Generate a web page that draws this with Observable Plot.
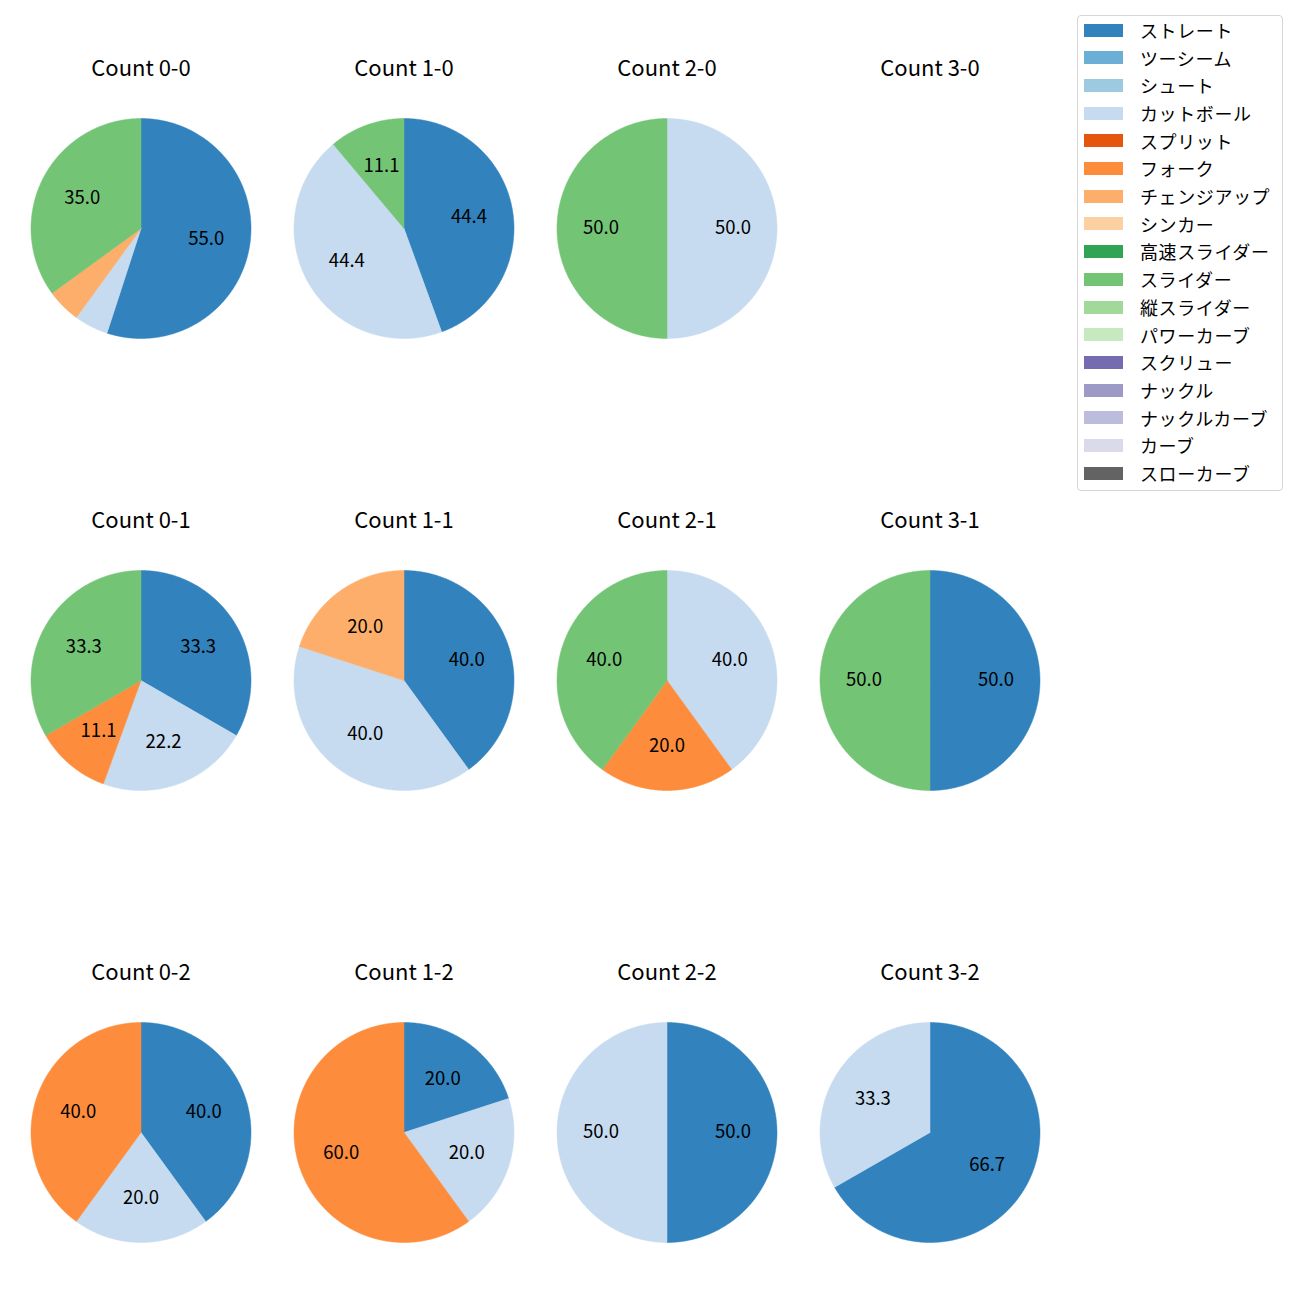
<!DOCTYPE html>
<html>
<head>
<meta charset="utf-8">
<script src="https://cdn.jsdelivr.net/npm/d3@7"></script>
<script src="https://cdn.jsdelivr.net/npm/@observablehq/plot@0.6"></script>
<style>
  body { margin: 0; background: #fff; font-family: "Noto Sans CJK JP", "Noto Sans", sans-serif; }
  #wrap { position: relative; width: 1300px; height: 1300px; }
  #legend { position: absolute; left: 1077px; top: 15px; width: 204px; height: 474px;
    border: 1px solid #d6d6d6; border-radius: 4px; background: rgba(255,255,255,0.8); box-sizing: content-box; }
  .row { position: absolute; left: 0; height: 27.7px; display: flex; align-items: center; }
  .sw { position: absolute; left: 6px; width: 39px; height: 13px; }
  .lb { position: absolute; left: 62px; font-size: 18px; letter-spacing: 0.6px; line-height: 1; white-space: nowrap; color: #000; }
</style>
</head>
<body>
<div id="wrap"><div id="chart"></div><div id="legend"></div></div>
<script>
// Pitch types (legend order) and their colours
const pitchTypes = ["ストレート","ツーシーム","シュート","カットボール","スプリット","フォーク","チェンジアップ","シンカー","高速スライダー","スライダー","縦スライダー","パワーカーブ","スクリュー","ナックル","ナックルカーブ","カーブ","スローカーブ"];
const pitchColors = ["#3182bd","#6baed6","#9ecae1","#c6dbef","#e6550d","#fd8d3c","#fdae6b","#fdd0a2","#31a354","#74c476","#a1d99b","#c7e9c0","#756bb1","#9e9ac8","#bcbddc","#dadaeb","#636363"];

// Counts: balls-strikes
const countBalls   = [0, 1, 2, 3, 0, 1, 2, 3, 0, 1, 2, 3];
const countStrikes = [0, 0, 0, 0, 1, 1, 1, 1, 2, 2, 2, 2];

// Percentages per pitch type for each count (same order as counts)
const straightPct = [55.0, 44.4, 0,    0, 33.3, 40.0, 0,    50.0, 40.0, 20.0, 50.0, 66.7];
const cutballPct  = [5.0,  44.4, 50.0, 0, 22.2, 40.0, 40.0, 0,    20.0, 20.0, 50.0, 33.3];
const forkPct     = [0,    0,    0,    0, 11.1, 0,    20.0, 0,    40.0, 60.0, 0,    0];
const changeupPct = [5.0,  0,    0,    0, 0,    20.0, 0,    0,    0,    0,    0,    0];
const sliderPct   = [35.0, 11.1, 50.0, 0, 33.3, 0,    40.0, 50.0, 0,    0,    0,    0];

const seriesByPitch = {
  "ストレート": straightPct,
  "カットボール": cutballPct,
  "フォーク": forkPct,
  "チェンジアップ": changeupPct,
  "スライダー": sliderPct
};

// Build wedge polygons and labels
const wedgePts = [];
const labels = [];
const titles = [];
countBalls.forEach((b, i) => {
  const s = countStrikes[i];
  titles.push({ball: b, strike: s, text: `Count ${b}-${s}`});
  const slices = pitchTypes
    .filter(p => seriesByPitch[p] && seriesByPitch[p][i] > 0)
    .map(p => ({pitch: p, value: seriesByPitch[p][i]}));
  if (!slices.length) return;
  const arcs = d3.pie().sort(null).value(d => d.value).startAngle(0).endAngle(2 * Math.PI)(slices);
  arcs.forEach((a, j) => {
    const key = `${i}-${j}`;
    const n = Math.max(2, Math.ceil((a.endAngle - a.startAngle) / (Math.PI / 360)));
    wedgePts.push({key, pitch: a.data.pitch, ball: b, strike: s, x: 0, y: 0});
    for (let k = 0; k <= n; k++) {
      const t = a.startAngle + (a.endAngle - a.startAngle) * k / n;
      wedgePts.push({key, pitch: a.data.pitch, ball: b, strike: s, x: Math.sin(t), y: Math.cos(t)});
    }
    wedgePts.push({key, pitch: a.data.pitch, ball: b, strike: s, x: 0, y: 0});
    if (a.data.value >= 10) {
      const m = (a.startAngle + a.endAngle) / 2;
      labels.push({ball: b, strike: s, x: 0.6 * Math.sin(m), y: 0.6 * Math.cos(m), text: a.data.value.toFixed(1)});
    }
  });
});

const R = 110; // pie radius in px
const cellW = 263, cellH = 320, centerFromTop = 190;

const chart = Plot.plot({
  width: 1300,
  height: 1300,
  marginLeft: 8.5,
  marginRight: 239.5,
  marginTop: 37.5,
  marginBottom: 37.5,
  style: {fontFamily: "'Noto Sans CJK JP', 'Noto Sans', sans-serif", background: "transparent"},
  fx: {domain: [0, 1, 2, 3], padding: 0, axis: null},
  fy: {domain: [0, 1, 2], paddingInner: 1 - cellH / 452.5, paddingOuter: 0, axis: null},
  x: {domain: [-cellW / 2 / R, cellW / 2 / R], axis: null},
  y: {domain: [-(cellH - centerFromTop) / R, centerFromTop / R], axis: null},
  color: {domain: pitchTypes, range: pitchColors},
  marks: [
    Plot.line(wedgePts, {x: "x", y: "y", z: "key", fill: "pitch", stroke: "pitch", strokeWidth: 0.5, fx: "ball", fy: "strike", curve: "linear"}),
    Plot.text(labels, {x: "x", y: "y", text: "text", fx: "ball", fy: "strike", fontSize: 18.5, fill: "#000", lineAnchor: "middle", style: "letter-spacing:0.4px"}),
    Plot.text(titles, {x: () => 0, y: () => 160 / R, text: "text", fx: "ball", fy: "strike", fontSize: 22, fill: "#000", lineAnchor: "middle"})
  ]
});
document.getElementById("chart").appendChild(chart);

// Legend
const legend = document.getElementById("legend");
pitchTypes.forEach((p, i) => {
  const row = document.createElement("div");
  row.className = "row";
  row.style.top = (0.0 + i * 27.7) + "px";
  row.style.width = "100%";
  const sw = document.createElement("div");
  sw.className = "sw";
  sw.style.background = pitchColors[i];
  sw.style.top = "7.5px";
  const lb = document.createElement("div");
  lb.className = "lb";
  lb.textContent = p;
  row.appendChild(sw);
  row.appendChild(lb);
  legend.appendChild(row);
});
</script>
</body>
</html>
